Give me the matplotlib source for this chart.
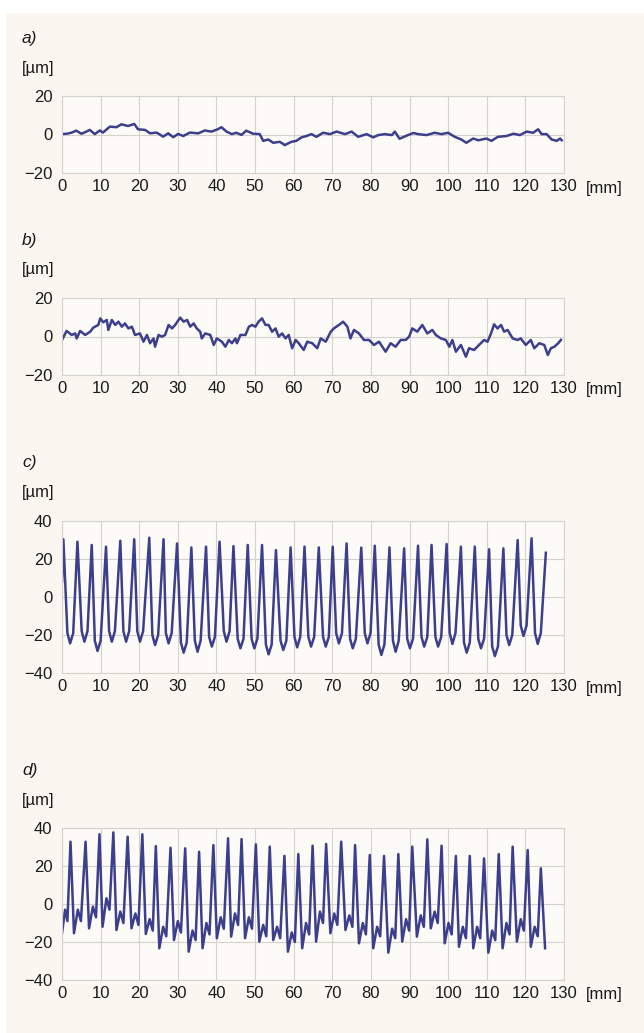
import matplotlib
matplotlib.use('Agg')
import matplotlib.pyplot as plt
from matplotlib.patches import Rectangle

plt.rcParams['font.family'] = ['Liberation Sans', 'DejaVu Sans']

# ---- data (x in mm, y in um) ----
a_x = [0, 1.2, 2.4, 3.7, 5.0, 6.0, 7.2, 8.5, 9.8, 10.6, 12.4, 14.1, 15.4, 17.1, 18.7, 19.7,
       21.5, 22.8, 24.5, 26.2, 27.5, 28.8, 30.1, 31.4, 33.1, 35.3, 37.0, 38.7, 40.3, 41.3,
       42.6, 44.0, 45.1, 46.5, 47.7, 49.5, 51.2, 52.1, 53.4, 54.7, 56.4, 57.7, 59.4, 60.7,
       62.0, 63.3, 64.6, 65.9, 67.6, 69.4, 71.1, 73.3, 75.0, 76.7, 78.9, 80.6, 81.9, 83.6,
       85.4, 86.2, 87.4, 89.6, 91.0, 92.2, 94.4, 96.5, 98.3, 100.0, 101.7, 103.4, 104.7,
       106.5, 107.8, 109.9, 111.2, 112.9, 115.1, 116.9, 118.6, 120.3, 122.0, 123.3, 124.2,
       125.5, 126.8, 128.1, 129.0, 129.4]
a_y = [0.2, 0.4, 0.9, 2.0, 0.4, 1.2, 2.4, 0.2, 2.1, 1.0, 4.1, 3.8, 5.3, 4.4, 5.5, 2.7,
       2.4, 0.6, 1.0, -1.1, 0.6, -1.4, 0.3, -0.8, 1.0, 0.6, 2.1, 1.5, 2.7, 3.8,
       1.5, 0.2, 0.9, -0.2, 2.0, 0.4, 0.2, -3.3, -2.6, -4.3, -3.8, -5.5, -3.8, -3.3,
       -1.5, -0.8, 0.2, -1.2, 0.9, 0.2, 1.5, 0.2, 1.5, -1.2, 0.2, -1.5, -0.3, 0.2,
       -0.3, 1.5, -2.2, -0.3, 0.8, 0.2, -0.3, 0.9, 0.2, 0.9, -1.2, -2.6, -4.3,
       -2.1, -3.0, -2.1, -3.3, -1.2, -0.8, 0.4, -0.3, 1.5, 0.9, 2.7, 0.2,
       0.2, -2.6, -3.3, -2.1, -3.0]

b_x = [0, 1.2, 2.5, 3.4, 3.8, 4.7, 6.0, 7.3, 8.1, 9.4, 9.9, 10.7, 11.6, 12.0, 12.9, 13.8,
       14.6, 15.5, 16.3, 17.2, 18.1, 18.9, 20.2, 21.1, 22.0, 22.8, 23.7, 24.1, 25.0, 25.9,
       26.7, 27.6, 28.5, 29.3, 30.6, 31.5, 32.4, 33.2, 34.1, 34.9, 35.8, 36.2, 37.1, 38.4,
       39.3, 40.1, 41.4, 42.3, 43.2, 44.0, 44.9, 45.3, 46.2, 47.5, 48.4, 49.2, 50.1, 50.9,
       51.8, 52.7, 53.5, 54.4, 55.3, 56.1, 57.0, 57.9, 58.7, 59.6, 60.5, 61.3, 62.6, 63.5,
       64.8, 66.1, 67.0, 68.3, 69.6, 70.4, 71.7, 72.8, 73.9, 74.7, 75.6, 76.9, 78.2, 79.5,
       80.8, 82.1, 83.8, 85.1, 86.4, 87.7, 89.0, 89.9, 90.7, 92.0, 93.3, 94.6, 95.9, 96.8,
       98.1, 99.4, 100.3, 101.1, 102.0, 103.3, 104.6, 105.4, 106.7, 108.0, 109.3, 110.2,
       111.1, 111.9, 112.8, 113.7, 114.5, 115.4, 116.7, 118.0, 118.8, 120.1, 121.4, 122.3,
       123.6, 124.9, 125.8, 126.6, 127.5, 128.5, 129.2]
b_y = [-1.8, 2.9, 0.8, 1.6, -1.0, 2.9, 0.8, 2.5, 4.6, 6.0, 9.4, 7.4, 8.6, 3.4, 8.6, 6.0,
       7.7, 5.1, 6.8, 4.2, 5.1, 0.8, 1.6, -2.7, 0.8, -3.5, -1.0, -5.3, 0.8, -0.1,
       0.8, 6.0, 4.2, 6.0, 9.8, 7.7, 8.6, 5.1, 6.8, 4.2, 2.5, -1.0, 1.6, 0.8,
       -4.4, -1.0, -2.7, -5.3, -1.8, -3.5, -1.0, -3.5, 0.8, 0.8, 5.1, 6.0, 5.1, 7.7,
       9.4, 6.0, 6.0, 2.5, 4.2, -0.1, 1.6, -1.0, 0.8, -6.1, -1.8, -3.5, -7.0, -2.7,
       -3.5, -6.1, -1.0, -2.7, 2.5, 4.2, 6.0, 7.7, 5.1, -1.0, 3.4, 1.6, -1.8, -1.8,
       -4.4, -2.7, -7.9, -3.5, -5.3, -1.8, -1.8, -0.1, 4.2, 2.5, 6.0, 1.6, 3.4, 0.8,
       -1.0, -1.8, -5.3, -1.8, -7.9, -4.4, -10.5, -6.1, -7.0, -4.4, -1.8, -2.7,
       1.6, 6.3, 4.2, 6.0, 2.5, 3.4, -1.0, -1.8, -1.0, -4.4, -1.8, -6.1,
       -3.5, -4.4, -9.6, -6.1, -5.3, -3.5, -1.8]

c_peak_x = [0.35, 4.0, 7.7, 11.4, 15.1, 18.7, 22.6, 26.3, 29.8, 33.5, 37.3, 40.8, 44.4, 48.1,
            51.8, 55.4, 59.2, 62.8, 66.5, 70.1, 73.7, 77.5, 81.0, 84.8, 88.6, 92.2, 95.7,
            99.6, 103.3, 106.9, 110.6, 114.3, 118.0, 121.6]
c_peak_y = [30.4, 29.1, 27.4, 26.5, 29.6, 30.4, 31.2, 30.4, 28.2, 26.1, 26.5, 29.1, 26.8, 27.4,
            27.4, 24.7, 26.1, 26.5, 26.1, 26.5, 28.2, 26.0, 27.0, 26.1, 25.6, 27.0, 27.4,
            27.9, 26.5, 26.5, 25.1, 25.6, 30.0, 30.9]
c_low_x = [0, 2.1, 5.8, 9.2, 12.9, 16.6, 20.2, 24.1, 27.6, 31.5, 35.1, 38.8, 42.6, 46.2, 49.8,
           53.5, 57.3, 60.9, 64.5, 68.3, 71.7, 75.3, 79.1, 82.7, 86.4, 90.1, 93.8, 97.4,
           101.1, 104.8, 108.5, 112.1, 115.8, 119.5, 123.2, 125.3]
c_low_y = [8.0, -24.4, -23.5, -28.4, -23.5, -23.5, -23.5, -25.3, -24.4, -29.3, -28.8, -26.1,
           -23.5, -27.0, -27.0, -30.2, -27.9, -26.5, -26.1, -26.1, -24.4, -27.0, -24.4, -30.5,
           -28.8, -27.0, -26.1, -26.1, -24.7, -29.3, -27.0, -31.1, -25.3, -20.5, -24.7, 23.3]
# edges of the rounded bottoms (left and right of each trough)
c_edge_l_x = [1.4, 5.1, 8.5, 12.2, 15.9, 19.5, 23.4, 26.9, 30.8, 34.4, 38.1, 41.9, 45.5, 49.1,
              52.8, 56.6, 60.2, 63.8, 67.6, 71.0, 74.6, 78.4, 82.0, 85.7, 89.4, 93.1, 96.7,
              100.4, 104.1, 107.8, 111.4, 115.1, 118.8, 122.5]
c_edge_r_x = [2.9, 6.6, 10.0, 13.7, 17.4, 21.0, 24.9, 28.4, 32.3, 35.9, 39.6, 43.4, 47.0, 50.6,
              54.3, 58.1, 61.7, 65.3, 69.1, 72.5, 76.1, 79.9, 83.5, 87.2, 90.9, 94.6, 98.2,
              101.9, 105.6, 109.3, 112.9, 116.6, 120.3, 124.0]
c_edge_y = [-19, -18, -23, -18, -18, -18, -20, -19, -24, -23, -21, -18, -22, -22, -25, -23, -21,
            -21, -21, -19, -22, -19, -25, -23, -22, -21, -21, -19, -24, -22, -26, -20, -15, -19]

d_peak_x = [2.2, 6.1, 9.7, 13.3, 17.0, 20.8, 24.3, 28.1, 31.9, 35.5, 39.2, 43.0, 46.5, 50.2,
            53.8, 57.6, 61.2, 64.9, 68.4, 72.3, 75.9, 79.7, 83.4, 87.1, 90.7, 94.6, 98.3,
            102.0, 105.6, 109.3, 113.1, 116.7, 120.6, 124.0]
d_peak_y = [32.8, 32.8, 36.7, 37.7, 35.4, 36.7, 30.5, 29.6, 29.3, 27.5, 31.0, 34.6, 34.2, 31.4,
            30.2, 25.3, 26.3, 30.7, 31.6, 32.8, 31.0, 25.8, 25.3, 26.3, 30.2, 34.0, 30.7,
            25.3, 25.3, 24.0, 26.3, 30.2, 28.4, 18.8]
d_low_x = [0, 3.1, 7.0, 10.5, 14.1, 18.0, 21.7, 25.2, 29.0, 32.8, 36.4, 40.1, 43.8, 47.4, 51.1,
           54.7, 58.5, 62.2, 65.8, 69.5, 73.4, 76.9, 80.6, 84.5, 88.1, 91.9, 95.5, 99.1,
           102.8, 106.5, 110.4, 114.1, 117.8, 121.4, 125.1]
d_low_y = [-15.4, -15.4, -12.8, -12.0, -13.7, -12.8, -15.8, -23.3, -19.0, -25.1, -23.3, -18.0,
           -17.2, -18.0, -19.8, -19.0, -25.1, -23.3, -19.8, -15.4, -13.7, -20.7, -23.3, -25.6,
           -19.8, -17.2, -12.8, -20.7, -22.5, -23.3, -25.6, -23.3, -19.8, -22.5, -23.3]
d_mid_x = [0.8, 4.1, 8.0, 11.5, 15.1, 19.0, 22.7, 26.2, 30.0, 33.8, 37.4, 41.1, 44.8, 48.4, 52.1,
           55.7, 59.5, 63.2, 66.8, 70.5, 74.4, 77.9, 81.6, 85.5, 89.1, 92.9, 96.5, 100.1,
           103.8, 107.5, 111.4, 115.1, 118.8, 122.4]
d_mid_y = [-3, -3, -1.4, 3, -4, -5, -8, -12, -9, -14, -10, -7, -5, -7, -11, -12, -15, -10, -4,
           -5, -6, -10, -12, -13, -8, -6, -4, -10, -12, -12, -14, -10, -8, -12]
d_dip_x = [1.4, 4.9, 8.8, 12.3, 15.9, 19.8, 23.5, 27.0, 30.8, 34.6, 38.2, 41.9, 45.6, 49.2, 52.9,
           56.5, 60.3, 64.0, 67.6, 71.3, 75.2, 78.7, 82.4, 86.3, 89.9, 93.7, 97.3, 100.9,
           104.6, 108.3, 112.2, 115.9, 119.6, 123.2]
d_dip_y = [-9, -9, -7, -3, -10, -11, -14, -17, -15, -19, -16, -13, -11, -13, -17, -18, -20, -16,
           -10, -11, -12, -16, -17, -18, -14, -12, -10, -16, -18, -18, -19, -16, -14, -17]

x_ticks = list(range(0, 131, 10))
panel_labels = ['a)', 'b)', 'c)', 'd)']


def merge(*pairs):
    pts = []
    for xs, ys in pairs:
        pts += list(zip(xs, ys))
    pts.sort(key=lambda p: p[0])
    return [p[0] for p in pts], [p[1] for p in pts]


c_x, c_y = merge((c_peak_x, c_peak_y), (c_low_x, c_low_y),
                 (c_edge_l_x, c_edge_y), (c_edge_r_x, c_edge_y))
d_x, d_y = merge((d_peak_x, d_peak_y), (d_low_x, d_low_y), (d_mid_x, d_mid_y), (d_dip_x, d_dip_y))

W, H = 644, 1033
bg = '#fbf7f0'
grid_c = '#d6d2cb'
line_c = '#3b3f8c'
txt_c = '#1a1a1a'

fig = plt.figure(figsize=(W / 100, H / 100), dpi=100, facecolor='white')
fig.add_artist(Rectangle((6 / W, 0), 1, 1 - 13 / H, transform=fig.transFigure,
                         facecolor=bg, edgecolor='none', zorder=-10))

# (top, bottom) pixel rows of each plot area, y-limit, y ticks
panels = [
    (96, 173, a_x, a_y, 20, [-20, 0, 20]),
    (298, 375, b_x, b_y, 20, [-20, 0, 20]),
    (521, 673, c_x, c_y, 40, [-40, -20, 0, 20, 40]),
    (828, 980, d_x, d_y, 40, [-40, -20, 0, 20, 40]),
]
left, right = 62, 564

for i, (top, bot, xs, ys, lim, yt) in enumerate(panels):
    ax = fig.add_axes([left / W, 1 - bot / H, (right - left) / W, (bot - top) / H])
    ax.set_facecolor('#fdfbf7')
    ax.plot(xs, ys, color=line_c, lw=1.8, solid_joinstyle='round')
    ax.set_xlim(0, 130)
    ax.set_ylim(-lim, lim)
    ax.set_xticks(x_ticks)
    ax.set_yticks(yt)
    ax.grid(True, color=grid_c, lw=0.8)
    ax.set_axisbelow(True)
    for s in ax.spines.values():
        s.set_color(grid_c)
        s.set_linewidth(0.8)
    ax.tick_params(length=0, labelsize=12, colors=txt_c)
    ax.tick_params(axis='y', pad=7)
    ax.tick_params(axis='x', pad=4)
    fig.text(22 / W, 1 - (top - 58) / H, panel_labels[i], fontsize=12.5, style='italic',
             va='center', ha='left', color=txt_c)
    fig.text(22 / W, 1 - (top - 28) / H, '[µm]', fontsize=12,
             va='center', ha='left', color=txt_c)
    fig.text(586 / W, 1 - (bot + 15) / H, '[mm]', fontsize=12,
             va='center', ha='left', color=txt_c)

fig.savefig('out.png', dpi=100, facecolor=fig.get_facecolor())
